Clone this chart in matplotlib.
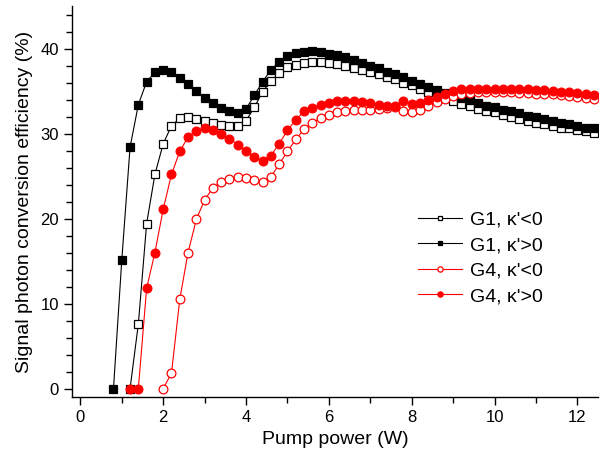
import matplotlib
matplotlib.use("Agg")
import matplotlib.pyplot as plt
from matplotlib.ticker import MultipleLocator

plt.rcParams.update({
    "font.family": ["Liberation Sans", "DejaVu Sans"],
    "font.size": 11,
    "axes.linewidth": 1.0,
})

# pump power grid (W), 0.2 W steps starting at 0.8
power = [0.8, 1.0, 1.2, 1.4, 1.6, 1.8, 2.0, 2.2, 2.4, 2.6, 2.8, 3.0, 3.2, 3.4,
         3.6, 3.8, 4.0, 4.2, 4.4, 4.6, 4.8, 5.0, 5.2, 5.4, 5.6, 5.8, 6.0, 6.2,
         6.4, 6.6, 6.8, 7.0, 7.2, 7.4, 7.6, 7.8, 8.0, 8.2, 8.4, 8.6, 8.8, 9.0,
         9.2, 9.4, 9.6, 9.8, 10.0, 10.2, 10.4, 10.6, 10.8, 11.0, 11.2, 11.4,
         11.6, 11.8, 12.0, 12.2, 12.4]

# G1, k'>0  (starts at 0.8 W)
g1_pos = [0, 15.1, 28.4, 33.4, 36.1, 37.2, 37.5, 37.2, 36.5, 35.8, 35.0, 34.2,
          33.6, 33.0, 32.6, 32.4, 32.9, 34.5, 36.1, 37.5, 38.4, 39.1, 39.5,
          39.6, 39.7, 39.6, 39.4, 39.2, 38.95, 38.65, 38.35, 38.0, 37.7, 37.3,
          36.95, 36.6, 36.2, 35.85, 35.5, 35.1, 34.8, 34.5, 34.2, 33.9, 33.55,
          33.3, 33.1, 32.8, 32.6, 32.4, 32.1, 31.9, 31.7, 31.5, 31.3, 31.1,
          30.9, 30.7, 30.6]

# G1, k'<0  (starts at 1.2 W)
g1_neg = [0, 7.6, 19.4, 25.2, 28.8, 30.9, 31.8, 31.9, 31.7, 31.5, 31.2, 31.0,
          30.9, 30.9, 31.5, 33.1, 34.9, 36.2, 37.1, 37.8, 38.1, 38.3, 38.4,
          38.4, 38.35, 38.2, 37.95, 37.7, 37.5, 37.3, 37.0, 36.7, 36.4, 36.0,
          35.7, 35.3, 34.9, 34.5, 34.2, 33.8, 33.5, 33.2, 32.9, 32.7, 32.5,
          32.2, 32.0, 31.7, 31.5, 31.3, 31.1, 30.9, 30.7, 30.6, 30.4, 30.3,
          30.1]

# G4, k'>0  (starts at 1.2 W)
g4_pos = [0, 0, 11.8, 16.0, 21.1, 25.2, 27.9, 29.6, 30.3, 30.6, 30.4, 30.0,
          29.4, 28.7, 27.9, 27.2, 26.8, 27.4, 28.8, 30.4, 31.6, 32.6, 33.0,
          33.35, 33.6, 33.8, 33.8, 33.8, 33.7, 33.6, 33.4, 33.3, 33.3, 33.8,
          33.5, 33.6, 33.9, 34.3, 34.7, 35.0, 35.2, 35.25, 35.3, 35.3, 35.3,
          35.3, 35.3, 35.3, 35.2, 35.1, 35.1, 35.0, 34.9, 34.85, 34.75, 34.6,
          34.5]

# G4, k'<0  (starts at 2.0 W)
g4_neg = [0, 1.8, 10.5, 16.0, 19.9, 22.2, 23.6, 24.3, 24.6, 24.9, 24.8, 24.5,
          24.3, 24.9, 26.4, 27.9, 29.3, 30.5, 31.3, 31.8, 32.15, 32.5, 32.7,
          32.8, 32.8, 32.8, 32.9, 33.0, 33.1, 32.7, 32.5, 32.8, 33.3, 33.7,
          34.1, 34.4, 34.65, 34.8, 34.85, 34.9, 34.9, 34.9, 34.9, 34.8, 34.8,
          34.7, 34.7, 34.6, 34.5, 34.4, 34.3, 34.2, 34.1]

labels = ["G1, \u03ba'<0", "G1, \u03ba'>0", "G4, \u03ba'<0", "G4, \u03ba'>0"]

fig = plt.figure(figsize=(6.16, 4.66), dpi=100)
ax = fig.add_axes([0.117, 0.148, 0.854, 0.839])

lw = 0.8
ax.plot(power[2:], g1_neg, "-s", color="black", mfc="white", mec="black",
        ms=5.5, mew=0.9, lw=lw, label=labels[0])
ax.plot(power, g1_pos, "-s", color="black", ms=5.5, mew=0.9, lw=lw,
        label=labels[1])
ax.plot(power[6:], g4_neg, "-o", color="red", mfc="white", mec="red",
        ms=6.3, mew=0.9, lw=lw, label=labels[2])
ax.plot(power[2:], g4_pos, "-o", color="red", ms=6.3, mew=0.9, lw=lw,
        label=labels[3])

ax.set_xlim(-0.2, 12.5)
ax.set_ylim(-1, 45)
ax.xaxis.set_major_locator(MultipleLocator(2))
ax.xaxis.set_minor_locator(MultipleLocator(1))
ax.yaxis.set_major_locator(MultipleLocator(10))
ax.yaxis.set_minor_locator(MultipleLocator(2))
ax.tick_params(which="major", direction="out", length=6, width=1.0,
               labelsize=12)
ax.tick_params(which="minor", direction="out", length=4, width=1.0)
ax.spines["top"].set_visible(False)
ax.spines["right"].set_visible(False)

ax.set_xlabel("Pump power (W)", fontsize=14, labelpad=4)
ax.set_ylabel("Signal photon conversion efficiency (%)", fontsize=14,
              labelpad=5)

ax.legend(loc="center left", bbox_to_anchor=(0.678, 0.446),
          bbox_transform=fig.transFigure, frameon=False, fontsize=14,
          markerscale=0.6, handlelength=2.3, handletextpad=0.4,
          labelspacing=0.4, borderpad=0, borderaxespad=0)

fig.savefig("out.png", dpi=100)
